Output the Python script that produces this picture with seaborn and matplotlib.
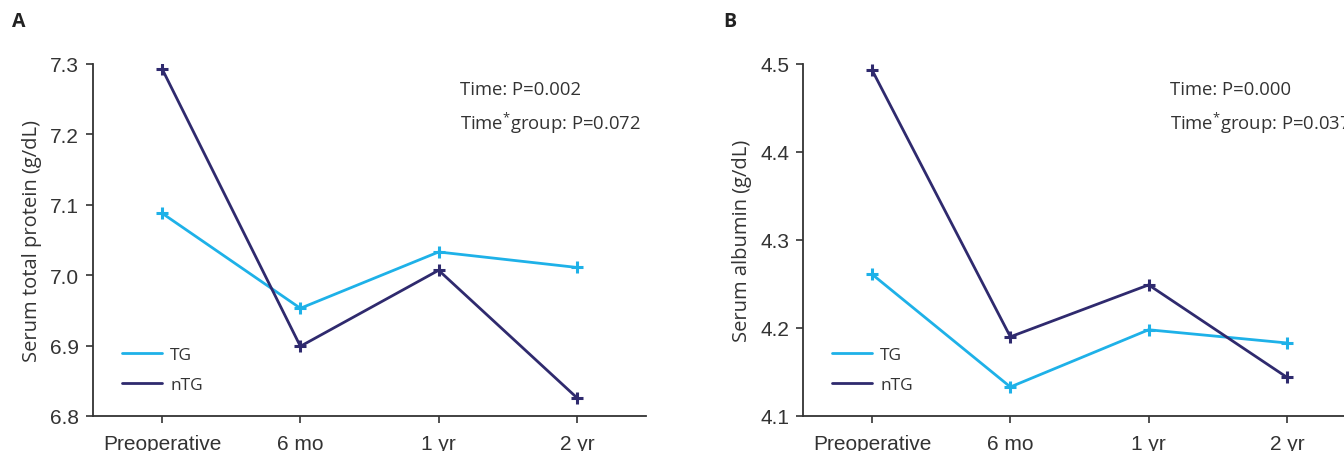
import matplotlib
matplotlib.use("Agg")
import matplotlib.pyplot as plt
import seaborn as sns
import pandas as pd

# ---- data ----
timepoints = ["Preoperative", "6 mo", "1 yr", "2 yr"]
groups = ["TG", "nTG"]
protein_tg = [7.088, 6.953, 7.033, 7.011]
protein_ntg = [7.293, 6.899, 7.007, 6.826]
albumin_tg = [4.261, 4.133, 4.198, 4.183]
albumin_ntg = [4.493, 4.190, 4.249, 4.144]
protein_ticks = [6.8, 6.9, 7.0, 7.1, 7.2, 7.3]
albumin_ticks = [4.1, 4.2, 4.3, 4.4, 4.5]
protein_p = ["Time: P=0.002", "Time$^{*}$group: P=0.072"]
albumin_p = ["Time: P=0.000", "Time$^{*}$group: P=0.037"]

sns.set_theme(style="ticks")
plt.rcParams["font.family"] = ["Open Sans", "DejaVu Sans"]
plt.rcParams["mathtext.fontset"] = "custom"
plt.rcParams["mathtext.rm"] = "Open Sans"
plt.rcParams["mathtext.it"] = "Open Sans"
plt.rcParams["mathtext.default"] = "regular"

colors = {"TG": "#1EB1E8", "nTG": "#2F2A6E"}
txt = "#333333"

def make_df(tg, ntg):
    rows = []
    for g, vals in zip(groups, [tg, ntg]):
        for i, v in enumerate(vals):
            rows.append({"pos": i, "value": v, "group": g})
    return pd.DataFrame(rows)

fig = plt.figure(figsize=(13.44, 4.52), dpi=100)
axA = fig.add_axes([93 / 1344, 35 / 452, 553 / 1344, 352 / 452])
axB = fig.add_axes([803 / 1344, 35 / 452, 553 / 1344, 352 / 452])

panels = [
    (axA, protein_tg, protein_ntg, protein_ticks, "Serum total protein (g/dL)", protein_p),
    (axB, albumin_tg, albumin_ntg, albumin_ticks, "Serum albumin (g/dL)", albumin_p),
]

for ax, tg, ntg, yticks, ylabel, ptxt in panels:
    df = make_df(tg, ntg)
    sns.lineplot(data=df, x="pos", y="value", hue="group", hue_order=groups,
                 palette=colors, ax=ax, linewidth=2.0, marker="+",
                 markersize=9, markeredgewidth=2.2, legend=True)
    for line in ax.get_lines():
        line.set_markeredgecolor(line.get_color())
    ax.set_xlim(-0.5, 3.5)
    ax.set_ylim(yticks[0], yticks[-1])
    ax.set_yticks(yticks)
    ax.set_yticklabels([f"{t:.1f}" for t in yticks])
    ax.set_xticks(range(len(timepoints)))
    ax.set_xticklabels(timepoints)
    ax.tick_params(axis="both", labelsize=15, colors=txt, length=5, width=1.2,
                   direction="out")
    ax.tick_params(axis="x", pad=8)
    ax.tick_params(axis="y", pad=5)
    for lab in ax.get_xticklabels() + ax.get_yticklabels():
        lab.set_family(["Liberation Sans", "DejaVu Sans"])
        lab.set_color(txt)
    for s in ["top", "right"]:
        ax.spines[s].set_visible(False)
    for s in ["left", "bottom"]:
        ax.spines[s].set_color(txt)
        ax.spines[s].set_linewidth(1.3)
    ax.set_xlabel("")
    ax.set_ylabel(ylabel, fontsize=14.5, color=txt, labelpad=6)
    leg = ax.legend(loc="lower left", bbox_to_anchor=(0.025, 0.02), frameon=False,
                    fontsize=12.5, handlelength=2.3, labelspacing=0.8,
                    handletextpad=0.45)
    for line in leg.get_lines():
        line.set_marker("")
        line.set_linewidth(2.0)
    for t in leg.get_texts():
        t.set_color(txt)
    ax.text(0.663, 0.93, ptxt[0], transform=ax.transAxes, fontsize=13.3,
            color=txt, va="center", ha="left")
    ax.text(0.663, 0.835, ptxt[1], transform=ax.transAxes, fontsize=13.3,
            color=txt, va="center", ha="left")

fig.text(12 / 1344, 1 - 22 / 452, "A", fontsize=14, fontweight="bold",
         color="#222222", va="center", ha="left")
fig.text(723 / 1344, 1 - 22 / 452, "B", fontsize=14, fontweight="bold",
         color="#222222", va="center", ha="left")

fig.savefig("out.png", dpi=100)
